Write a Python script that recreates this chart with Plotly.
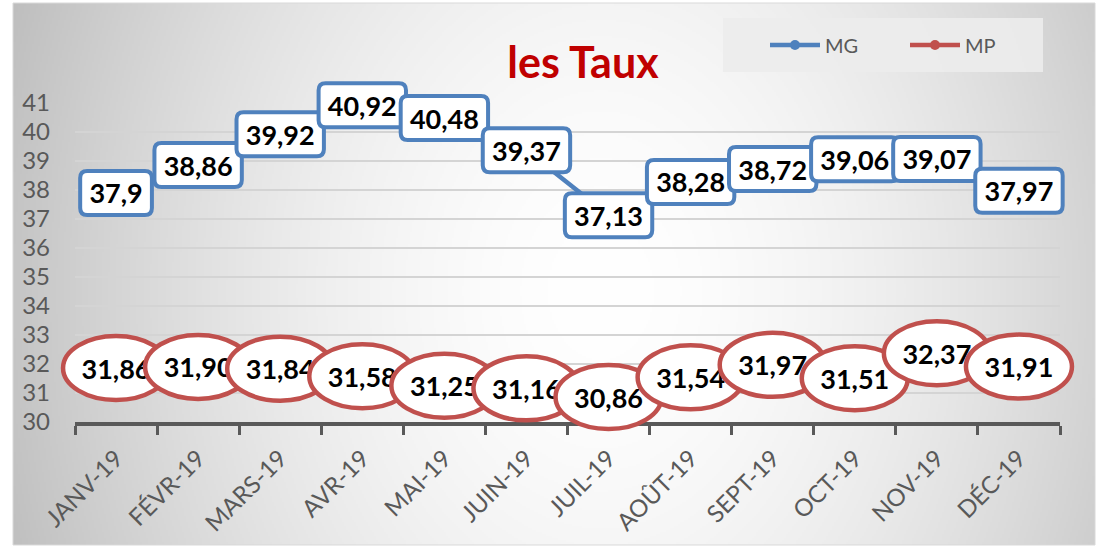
import zlib, struct, base64
import numpy as np
import plotly.graph_objects as go

# ---------------- data ----------------
months = ["JANV-19", "FÉVR-19", "MARS-19", "AVR-19", "MAI-19", "JUIN-19",
          "JUIL-19", "AOÛT-19", "SEPT-19", "OCT-19", "NOV-19", "DÉC-19"]
mg = [37.9, 38.86, 39.92, 40.92, 40.48, 39.37, 37.13, 38.28, 38.72, 39.06, 39.07, 37.97]
mp = [31.86, 31.90, 31.84, 31.58, 31.25, 31.16, 30.86, 31.54, 31.97, 31.51, 32.37, 31.91]
y_ticks = list(range(30, 42))
title_text = "les Taux"

# ---------------- geometry ----------------
W, H = 1100, 548
PX_L, PX_R = 75, 1060          # plot area (px)
PY_T, PY_B = 103, 422          # y=41 and y=30 (px)
OUT_L, OUT_R, OUT_T, OUT_B = 13, 1095, 3, 545   # chart box
BLUE = "#4F81BD"
RED = "#C0504D"
GREY_TXT = "#595959"
FONT = "Lato"

xi = list(range(len(months)))
x_lo, x_hi = -0.5, len(months) - 0.5
y_lo, y_hi = min(y_ticks), max(y_ticks)
ppx = (PX_R - PX_L) / (x_hi - x_lo)
ppy = (PY_B - PY_T) / (y_hi - y_lo)
x2_range = [x_lo - (PX_L - OUT_L) / ppx, x_hi + (OUT_R - PX_R) / ppx]
y2_range = [y_lo - (OUT_B - PY_B) / ppy, y_hi + (PY_T - OUT_T) / ppy]


def fmt_short(v):
    s = f"{v:.2f}".rstrip("0").rstrip(".")
    return s.replace(".", ",")


def fmt2(v):
    return f"{v:.2f}".replace(".", ",")


# ---------------- background gradient image ----------------
def png_uri(arr):
    h, w, _ = arr.shape
    raw = b"".join(b"\x00" + arr[r].tobytes() for r in range(h))

    def chunk(t, d):
        c = struct.pack(">I", len(d)) + t + d
        return c + struct.pack(">I", zlib.crc32(t + d) & 0xFFFFFFFF)

    png = (b"\x89PNG\r\n\x1a\n"
           + chunk(b"IHDR", struct.pack(">IIBBBBB", w, h, 8, 2, 0, 0, 0))
           + chunk(b"IDAT", zlib.compress(raw, 9))
           + chunk(b"IEND", b""))
    return "data:image/png;base64," + base64.b64encode(png).decode()


gw, gh = (OUT_R - OUT_L) // 2, (OUT_B - OUT_T) // 2
yy, xx = np.mgrid[0:gh, 0:gw]
cx, cy = (600 - OUT_L) / 2, (290 - OUT_T) / 2
Rx, Ry = 600 / 2, 780 / 2
d = np.sqrt(((xx - cx) / Rx) ** 2 + ((yy - cy) / Ry) ** 2)
val = 255 - 60 * np.clip(d, 0, 1.15) ** 1.7
val = np.clip(val, 0, 255).astype(np.uint8)
img = np.stack([val, val, val], axis=-1)
bg_uri = png_uri(img)

# ---------------- figure ----------------
fig = go.Figure()

fig.add_trace(go.Scatter(x=[], y=[], xaxis="x", yaxis="y", showlegend=False, hoverinfo="skip"))

fig.add_trace(go.Scatter(
    x=xi, y=mg, name="MG", mode="lines+markers", xaxis="x2", yaxis="y2",
    line=dict(color=BLUE, width=4.5), marker=dict(color=BLUE, size=10),
))
fig.add_trace(go.Scatter(
    x=xi, y=mp, name="MP", mode="lines+markers", xaxis="x2", yaxis="y2",
    line=dict(color=RED, width=4.5), marker=dict(color=RED, size=10),
))

shapes = []
label_font = dict(family=FONT, size=27, color="black", weight="bold")


def text_width(s, fs=27):
    w = 0
    for ch in s:
        w += 0.25 * fs if ch == "," else 0.58 * fs
    return w


# rounded rectangles for MG
for i, v in zip(xi, mg):
    t = fmt_short(v)
    hw = (text_width(t) + 18) / 2
    hh = 22
    r = 7
    path = (f"M{-hw + r},{-hh} L{hw - r},{-hh} Q{hw},{-hh} {hw},{-hh + r} "
            f"L{hw},{hh - r} Q{hw},{hh} {hw - r},{hh} L{-hw + r},{hh} "
            f"Q{-hw},{hh} {-hw},{hh - r} L{-hw},{-hh + r} Q{-hw},{-hh} {-hw + r},{-hh} Z")
    shapes.append(dict(
        type="path", xref="x2", yref="y2", xsizemode="pixel", ysizemode="pixel",
        xanchor=i, yanchor=v, path=path, layer="above",
        line=dict(color=BLUE, width=4), fillcolor="white",
        label=dict(text=t, font=label_font, textposition="middle center"),
    ))

# ellipses for MP (bezier path)
ea, eb = 53, 32
k = 0.5523
epath = (f"M{-ea},0 C{-ea},{-eb * k} {-ea * k},{-eb} 0,{-eb} "
         f"C{ea * k},{-eb} {ea},{-eb * k} {ea},0 "
         f"C{ea},{eb * k} {ea * k},{eb} 0,{eb} "
         f"C{-ea * k},{eb} {-ea},{eb * k} {-ea},0 Z")
for i, v in zip(xi, mp):
    t = fmt2(v)
    shapes.append(dict(
        type="path", xref="x2", yref="y2", xsizemode="pixel", ysizemode="pixel",
        xanchor=i, yanchor=v, path=epath, layer="above",
        line=dict(color=RED, width=4.5), fillcolor="white",
        label=dict(text=t, font=label_font, textposition="middle center"),
    ))

# chart border
shapes.insert(0, dict(type="rect", xref="paper", yref="paper",
                      x0=OUT_L / W, x1=OUT_R / W, y0=1 - OUT_B / H, y1=1 - OUT_T / H,
                      line=dict(color="#D9D9D9", width=1), layer="below"))
# legend box
shapes.insert(1, dict(type="rect", xref="paper", yref="paper",
                      x0=723 / W, x1=1043 / W, y0=1 - 72 / H, y1=1 - 18 / H,
                      line=dict(width=0), fillcolor="rgba(236,236,236,0.9)", layer="below"))

fig.update_layout(
    width=W, height=H,
    margin=dict(l=0, r=0, t=0, b=0, autoexpand=False),
    paper_bgcolor="white",
    plot_bgcolor="rgba(0,0,0,0)",
    font=dict(family=FONT, color=GREY_TXT),
    images=[dict(source=bg_uri, xref="paper", yref="paper",
                 x=OUT_L / W, y=1 - OUT_T / H, sizex=(OUT_R - OUT_L) / W,
                 sizey=(OUT_B - OUT_T) / H, sizing="stretch", layer="below",
                 xanchor="left", yanchor="top")],
    xaxis=dict(
        domain=[PX_L / W, PX_R / W], range=[x_lo, x_hi], anchor="y",
        tickmode="array", tickvals=xi, ticktext=months, tickangle=-45,
        ticks="", showgrid=False, zeroline=False,
        showline=True, linecolor=GREY_TXT, linewidth=3.5,
        tickfont=dict(family=FONT, size=24, color=GREY_TXT),
        ticklabelstandoff=9,
        minor=dict(tickmode="array", tickvals=[k2 - 0.5 for k2 in range(len(months) + 1)],
                   ticks="outside", ticklen=9, tickwidth=3, tickcolor=GREY_TXT, showgrid=False),
    ),
    yaxis=dict(
        domain=[1 - PY_B / H, 1 - PY_T / H], range=[y_lo, y_hi], anchor="x",
        tickmode="array", tickvals=y_ticks, ticktext=[str(v) for v in y_ticks],
        showgrid=True, gridcolor="#D4D4D4", gridwidth=1.5, zeroline=False,
        showline=False, ticks="",
        tickfont=dict(family=FONT, size=24, color=GREY_TXT),
        ticklabelstandoff=24,
    ),
    xaxis2=dict(domain=[OUT_L / W, OUT_R / W], range=x2_range, anchor="y2",
                visible=False, fixedrange=True),
    yaxis2=dict(domain=[1 - OUT_B / H, 1 - OUT_T / H], range=y2_range, anchor="x2",
                visible=False, fixedrange=True),
    title=dict(text=f"<b>{title_text}</b>", x=583 / W, xanchor="center",
               y=1 - 63 / H, yanchor="middle",
               font=dict(family=FONT, size=43, color="#C00000")),
    showlegend=True,
    legend=dict(orientation="h", x=765 / W, xanchor="left", y=1 - 45 / H, yanchor="middle",
                bgcolor="rgba(0,0,0,0)", font=dict(family=FONT, size=20, color=GREY_TXT),
                itemwidth=50, entrywidth=75, entrywidthmode="pixels"),
    shapes=shapes,
)

fig.write_html("out.html", config={"displayModeBar": False},
               post_script="document.body.style.margin='0';document.body.style.padding='0';")
